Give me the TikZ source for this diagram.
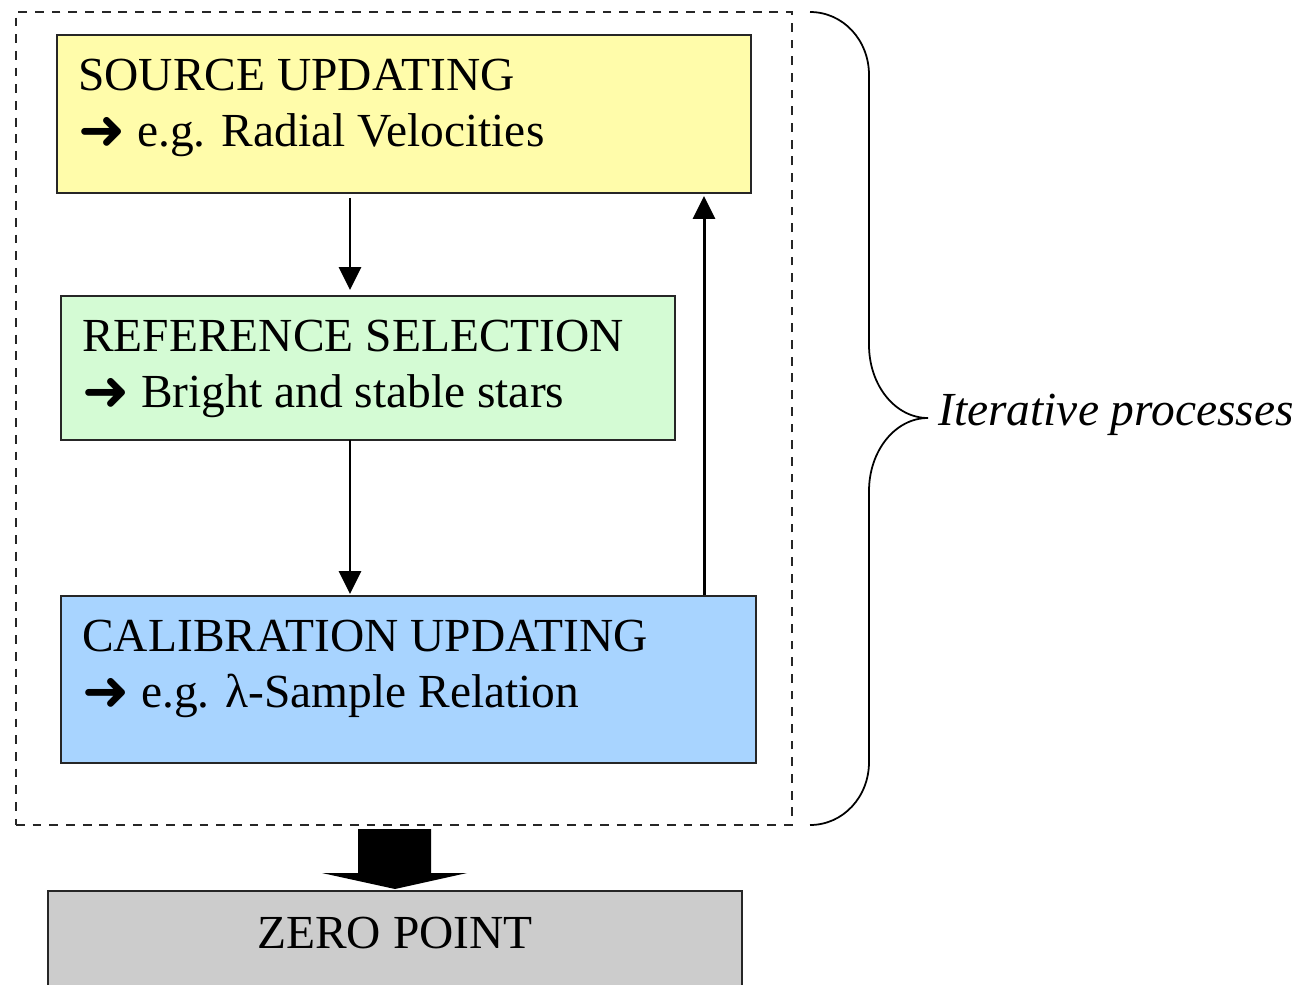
\documentclass[tikz,border=0pt]{standalone}
\usepackage{fontspec}
\setmainfont{Liberation Serif}
\newfontfamily\symfont{DejaVu Sans}
\usetikzlibrary{arrows.meta}
\newcommand{\arr}{\raisebox{-1.5pt}{\symfont\fontsize{32}{32}\selectfont ➜}}
\definecolor{srcyellow}{RGB}{255,252,170}
\definecolor{refgreen}{RGB}{212,251,212}
\definecolor{calblue}{RGB}{168,212,255}
\definecolor{zerogray}{RGB}{204,204,204}
\tikzset{
  box/.style={draw=black!85, line width=0.8pt, rectangle, inner sep=0pt, outer sep=0pt, anchor=north west},
  boxtext/.style={anchor=north west, inner sep=0pt, align=left, font=\fontsize{27}{32}\selectfont},
  flow/.style={->, line width=1.7pt, shorten <=0.1cm, shorten >=0.12cm}
}
\begin{document}
\begin{tikzpicture}[x=0.02cm, y=-0.02cm, >={Triangle[length=0.46cm, width=0.44cm]}]
    \useasboundingbox (0, 0) rectangle (1307, 984);
    \node[box, dash pattern=on 5pt off 4.5pt, minimum width=15.52cm, minimum height=16.26cm] (frame) at (16, 12) {};
    \node[box, fill=srcyellow, minimum width=13.88cm, minimum height=3.16cm] (src) at (57, 35) {};
    \node[box, fill=refgreen, minimum width=12.28cm, minimum height=2.88cm] (ref) at (61, 296) {};
    \node[box, fill=calblue, minimum width=13.9cm, minimum height=3.34cm] (cal) at (61, 596) {};
    \node[box, fill=zerogray, minimum width=13.88cm, minimum height=2.2cm] (zero) at (48, 891) {};
    \node[boxtext] (srctext) at (78, 59) {SOURCE UPDATING\\\arr\ e.g. Radial Velocities};
    \node[boxtext] (reftext) at (82, 320) {REFERENCE SELECTION\\\arr\ Bright and stable stars};
    \node[boxtext] (caltext) at (82, 620) {CALIBRATION UPDATING\\\arr\ e.g. λ-Sample Relation};
    \node[anchor=base, inner sep=0pt, font=\fontsize{27}{32}\selectfont] (zerotext) at (395, 948) {ZERO POINT};
    % loop between the three boxes
    \coordinate (colA) at (350, 0);
    \coordinate (colB) at (704, 0);
    \draw[flow] (src.south -| colA) -- (ref.north -| colA);
    \draw[flow, shorten <=0pt, shorten >=0.04cm] (ref.south -| colA) -- (cal.north -| colA);
    \draw[flow, shorten <=0.02cm, shorten >=0.06cm] (cal.north -| colB) -- (src.south -| colB);
    % brace and its label
    \coordinate (bracetop) at (810, 12);
    \coordinate (bracetip) at (928, 418);
    \coordinate (bracebot) at (810, 825);
    \draw[line width=1pt] (bracetop) .. controls (843, 12) and (869, 40) .. (869, 75) -- (869, 345)
        .. controls (869, 385) and (895, 418) .. (bracetip)
        .. controls (895, 418) and (869, 451) .. (869, 491) -- (869, 762)
        .. controls (869, 797) and (843, 825) .. (bracebot);
    \node[anchor=base west, inner sep=0pt, font=\fontsize{27}{32}\selectfont\itshape] (itertext) at (938, 425) {Iterative processes};
    % block arrow down to the result
    \fill (358, 829) -- (431, 829) -- (431, 873) -- (467, 873) -- (395, 889) -- (322, 873) -- (358, 873) -- cycle;
\end{tikzpicture}
\end{document}
